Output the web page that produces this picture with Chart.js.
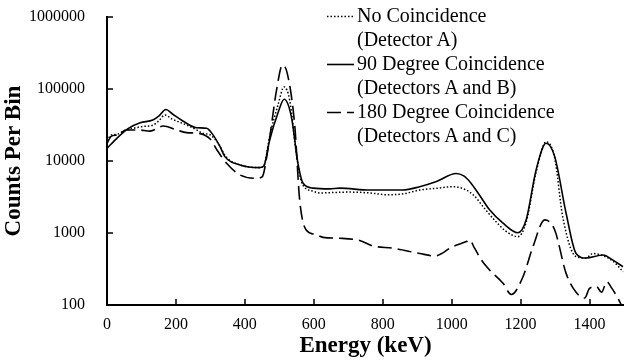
<!DOCTYPE html>
<html>
<head>
<meta charset="utf-8">
<script src="https://cdn.jsdelivr.net/npm/chart.js@4.4.1/dist/chart.umd.min.js"></script>
<style>
  html, body { margin: 0; padding: 0; background: #fff; }
  #wrap { position: relative; width: 624px; height: 360px; }
  #legend { position: absolute; left: 327px; top: 3px; font-family: "Liberation Serif", "Times New Roman", serif; font-size: 20px; color: #000; line-height: 24px; }
  #legend .row { position: relative; padding-left: 30px; white-space: nowrap; }
  #legend svg { position: absolute; left: 0; top: 12px; }
</style>
</head>
<body>
<div id="wrap">
  <canvas id="chart" width="624" height="360"></canvas>
  <div id="legend">
    <div class="row"><svg width="28" height="3"><line x1="0" y1="1.5" x2="27" y2="1.5" stroke="#000" stroke-width="1.5" stroke-dasharray="1.5,2"/></svg>No Coincidence</div>
    <div class="row">(Detector A)</div>
    <div class="row"><svg width="28" height="3"><line x1="0" y1="1.5" x2="27" y2="1.5" stroke="#000" stroke-width="1.6"/></svg>90 Degree Coincidence</div>
    <div class="row">(Detectors A and B)</div>
    <div class="row"><svg width="28" height="3"><line x1="0" y1="1.5" x2="27" y2="1.5" stroke="#000" stroke-width="1.6" stroke-dasharray="14,6"/></svg>180 Degree Coincidence</div>
    <div class="row">(Detectors A and C)</div>
  </div>
</div>
<script>
// energies (keV) and counts
const noCoincEnergy = [0, 12, 30, 50, 76, 100, 134, 150, 168, 190, 231, 260, 279, 300, 323, 345, 386, 443, 455, 472, 496, 514, 530, 550, 565, 598, 617, 700, 762, 811, 860, 907, 960, 1004, 1040, 1065, 1095, 1125, 1155, 1192, 1216, 1245, 1274, 1299, 1322, 1361, 1390, 1410, 1440, 1470, 1497];
const noCoincCounts = [19000, 23000, 23500, 26500, 28400, 30000, 31600, 36000, 43500, 38000, 31600, 27000, 24200, 23000, 17500, 11500, 8800, 8100, 8600, 22000, 60000, 107000, 70000, 12000, 5000, 3800, 3600, 3700, 3600, 3400, 3500, 3950, 4200, 4400, 4000, 3300, 2200, 1500, 1080, 890, 1400, 7000, 18500, 11000, 1700, 470, 450, 520, 480, 400, 290];

const deg90Energy = [0, 30, 60, 96, 133, 150, 171, 190, 220, 260, 289, 305, 328, 342, 386, 443, 455, 472, 496, 514, 535, 554, 569, 598, 646, 675, 762, 858, 907, 956, 1013, 1035, 1055, 1080, 1110, 1149, 1192, 1216, 1245, 1274, 1299, 1332, 1361, 1390, 1439, 1468, 1497];
const deg90Counts = [15000, 21000, 28000, 34000, 37000, 42000, 52000, 45000, 36000, 29000, 28500, 24000, 15800, 11500, 8800, 8100, 8500, 19600, 46400, 72000, 41000, 9300, 4900, 4200, 4100, 4200, 3950, 3950, 4400, 5200, 6700, 6200, 5000, 3400, 2100, 1370, 1010, 1520, 7500, 17600, 11500, 1880, 520, 450, 495, 420, 340];

const deg180Energy = [0, 12, 30, 57, 90, 125, 163, 202, 231, 270, 300, 320, 347, 386, 434, 450, 468, 492, 509, 523, 545, 559, 578, 603, 627, 675, 733, 772, 830, 907, 951, 1004, 1043, 1052, 1066, 1085, 1110, 1149, 1173, 1207, 1236, 1270, 1299, 1332, 1361, 1386, 1400, 1420, 1435, 1450, 1465, 1480, 1495];
const deg180Counts = [17500, 22000, 23000, 27000, 27000, 26000, 30600, 27000, 24800, 24000, 20000, 14000, 9300, 6400, 5750, 6000, 15800, 97000, 215000, 165000, 30000, 2870, 1100, 960, 870, 845, 785, 660, 615, 520, 480, 650, 760, 800, 620, 430, 306, 200, 140, 247, 650, 1520, 1100, 275, 150, 125, 170, 180, 150, 210, 170, 130, 95];

const xTicks = [0, 200, 400, 600, 800, 1000, 1200, 1400];
const yTicks = [100, 1000, 10000, 100000, 1000000];

const toPoints = (xs, ys) => xs.map((x, i) => ({ x: x, y: ys[i] }));

const serif = '"Liberation Serif", "Times New Roman", serif';

// tick marks pointing into the plot, like the original
const innerTicks = {
  id: 'innerTicks',
  afterDraw(chart) {
    const ctx = chart.ctx;
    const xs = chart.scales.x, ys = chart.scales.y;
    const area = chart.chartArea;
    ctx.save();
    ctx.strokeStyle = '#000';
    ctx.lineWidth = 1.5;
    ctx.beginPath();
    xTicks.forEach(v => {
      const px = Math.round(xs.getPixelForValue(v));
      ctx.moveTo(px, area.bottom);
      ctx.lineTo(px, area.bottom - 6);
    });
    yTicks.forEach(v => {
      const py = Math.round(ys.getPixelForValue(v));
      ctx.moveTo(area.left, py);
      ctx.lineTo(area.left + 6, py);
    });
    ctx.stroke();
    ctx.restore();
  }
};

const lineStyle = {
  borderColor: '#000',
  backgroundColor: '#000',
  fill: false,
  pointRadius: 0,
  cubicInterpolationMode: 'monotone',
};

new Chart(document.getElementById('chart'), {
  type: 'line',
  data: {
    datasets: [
      Object.assign({ label: 'No Coincidence (Detector A)', data: toPoints(noCoincEnergy, noCoincCounts), borderWidth: 1.5, borderDash: [1.5, 2] }, lineStyle),
      Object.assign({ label: '90 Degree Coincidence (Detectors A and B)', data: toPoints(deg90Energy, deg90Counts), borderWidth: 1.6 }, lineStyle),
      Object.assign({ label: '180 Degree Coincidence (Detectors A and C)', data: toPoints(deg180Energy, deg180Counts), borderWidth: 1.6, borderDash: [14, 6] }, lineStyle),
    ],
  },
  options: {
    responsive: false,
    animation: false,
    layout: { padding: { top: 17, right: 0, left: 0, bottom: 0 } },
    plugins: { legend: { display: false }, tooltip: { enabled: false } },
    scales: {
      x: {
        type: 'linear',
        min: 0,
        max: 1500,
        afterBuildTicks: s => { s.ticks = xTicks.map(v => ({ value: v })); },
        afterFit: s => { s.height = 55; s.paddingLeft = 0; s.paddingRight = 0; },
        grid: { display: false },
        border: { display: true, color: '#000', width: 2 },
        ticks: { color: '#000', font: { family: serif, size: 16 }, padding: 2, maxRotation: 0, callback: v => String(v) },
        title: { display: true, text: 'Energy (keV)', color: '#000', font: { family: serif, size: 23, weight: 'bold' }, padding: { top: 0, bottom: 0 } },
      },
      y: {
        type: 'logarithmic',
        min: 100,
        max: 1000000,
        afterBuildTicks: s => { s.ticks = yTicks.map(v => ({ value: v })); },
        afterFit: s => { s.width = 107; s.paddingTop = 0; s.paddingBottom = 0; },
        grid: { display: false },
        border: { display: true, color: '#000', width: 2 },
        ticks: { color: '#000', font: { family: serif, size: 16 }, padding: 14, callback: v => String(v) },
        title: { display: true, text: 'Counts Per Bin', color: '#000', font: { family: serif, size: 23, weight: 'bold' }, padding: { top: 0, bottom: 2 } },
      },
    },
  },
  plugins: [innerTicks],
});
</script>
</body>
</html>
